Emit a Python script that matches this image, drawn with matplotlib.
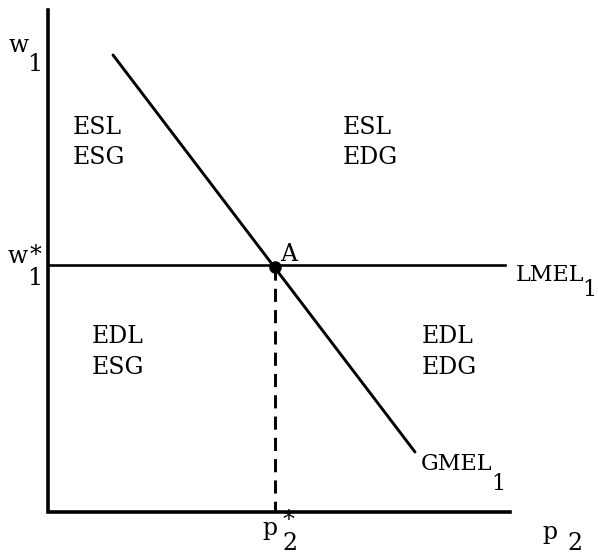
import matplotlib.pyplot as plt

# diagram geometry, in picture units (y grows downward)
axis_x = [48, 48, 510]
axis_y = [10, 512, 512]

lmel_x = [48, 505]
lmel_y = [265, 265]

gmel_x = [113, 415]
gmel_y = [55, 452]

point_a = (275, 267)

# region labels: (top line, bottom line, left x, top baseline, bottom baseline)
region_top = ['ESL', 'ESL', 'EDL', 'EDL']
region_bottom = ['ESG', 'EDG', 'ESG', 'EDG']
region_x = [73, 343, 92, 422]
region_base1 = [134, 134, 343, 343]
region_base2 = [164, 164, 374, 374]

fig = plt.figure(figsize=(5.98, 5.56), dpi=100)
ax = fig.add_axes([0, 0, 1, 1])
ax.set_xlim(0, 598)
ax.set_ylim(556, 0)
ax.axis('off')

ax.plot(axis_x, axis_y, color='black', lw=2.6, solid_joinstyle='miter')
ax.plot(lmel_x, lmel_y, color='black', lw=1.9)
ax.plot(gmel_x, gmel_y, color='black', lw=2.1, solid_capstyle='round')
ax.plot([point_a[0], point_a[0]], [point_a[1], axis_y[1]], color='black',
        lw=2.1, dashes=(4.5, 2.8))
ax.plot(*point_a, 'o', color='black', ms=8)

font = dict(family='DejaVu Serif', fontsize=17, color='black',
            ha='left', va='baseline')
small = dict(font, fontsize=16)

for t, b, x, y1, y2 in zip(region_top, region_bottom, region_x,
                           region_base1, region_base2):
    ax.text(x, y1, t, **font)
    ax.text(x, y2, b, **font)

ax.text(280, 261, 'A', **font)

# w1 and w1*
ax.text(9, 52, 'w', **font)
ax.text(27, 71, '1', **font)
ax.text(8, 263, 'w', **font)
ax.text(30, 262, '*', **font)
ax.text(27, 285, '1', **font)

# LMEL1 and GMEL1
ax.text(516, 281, 'LMEL', **small)
ax.text(582, 296, '1', **small)
ax.text(421, 470, 'GMEL', **small)
ax.text(491, 490, '1', **small)

# p2* and p2
ax.text(262, 535, 'p', **font)
ax.text(283, 527, '*', **font)
ax.text(282, 550, '2', **font)
ax.text(542, 539, 'p', **font)
ax.text(567, 550, '2', **font)

fig.savefig('out.png', dpi=100)
